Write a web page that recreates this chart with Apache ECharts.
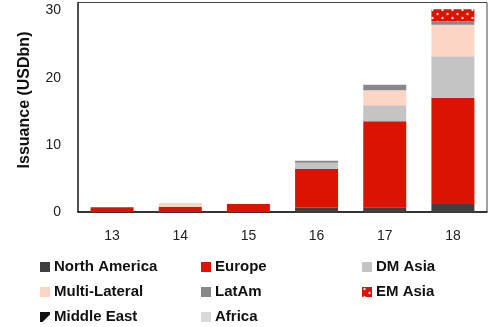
<!DOCTYPE html>
<html>
<head>
<meta charset="utf-8">
<script src="https://cdn.jsdelivr.net/npm/echarts@6/dist/echarts.min.js"></script>
<style>
  html, body { margin: 0; padding: 0; background: #fff; }
  #chart { width: 492px; height: 327px; }
</style>
</head>
<body>
<div id="chart"></div>
<script>
// Issuance by region, USD bn
const categories = ['13', '14', '15', '16', '17', '18'];
const northAmerica = [0, 0, 0, 0.65, 0.7, 1.2];
const europe = [0.7, 0.8, 1.2, 5.8, 12.8, 15.8];
const dmAsia = [0, 0, 0, 0.9, 2.4, 6.2];
const multiLateral = [0, 0.55, 0, 0, 2.25, 4.7];
const latAm = [0, 0, 0, 0.3, 0.8, 0.5];
const emAsia = [0, 0, 0, 0, 0, 1.8];
const middleEast = [0, 0, 0, 0, 0, 0];
const africa = [0, 0, 0, 0, 0, 0];
const yTicks = [0, 10, 20, 30];

// red fill with staggered white dots
function dotPattern() {
  const c = document.createElement('canvas');
  c.width = 10; c.height = 8;
  const g = c.getContext('2d');
  g.fillStyle = '#DA1400';
  g.fillRect(0, 0, 10, 8);
  g.fillStyle = 'rgba(255,255,255,0.85)';
  g.beginPath(); g.arc(2.5, 2, 1.2, 0, Math.PI * 2); g.fill();
  g.beginPath(); g.arc(7.5, 6, 1.2, 0, Math.PI * 2); g.fill();
  return { image: c, repeat: 'repeat' };
}

const font = '"Liberation Sans", Arial, sans-serif';

function bar(name, data, color) {
  return {
    name, type: 'bar', stack: 'total', data,
    barWidth: 43,
    itemStyle: { color },
    emphasis: { disabled: true }
  };
}

const series = [
  bar('North America', northAmerica, '#404040'),
  bar('Europe', europe, '#DA1400'),
  bar('DM Asia', dmAsia, '#C4C4C4'),
  bar('Multi-Lateral', multiLateral, '#FDD5C4'),
  bar('LatAm', latAm, '#888888'),
  bar('EM Asia', emAsia, dotPattern()),
  bar('Middle East', middleEast, '#111111'),
  bar('Africa', africa, '#D9D9D9')
];

function legendCol(left, items) {
  return {
    orient: 'vertical', left, top: 259.5, padding: 0,
    itemWidth: 10, itemHeight: 10, itemGap: 10,
    icon: 'rect', selectedMode: false,
    textStyle: { fontFamily: font, fontWeight: 'bold', fontSize: 15, lineHeight: 15, color: '#111', padding: [0, 0, 0, -1] },
    data: items
  };
}

const chart = echarts.init(document.getElementById('chart'), null, { renderer: 'canvas' });
chart.setOption({
  animation: false,
  backgroundColor: '#fff',
  grid: { left: 78, right: 5, top: 2.5, bottom: 115, show: true, borderColor: '#444', borderWidth: 1 },
  xAxis: {
    type: 'category', data: categories,
    axisLine: { lineStyle: { color: '#111', width: 1.5 } },
    axisTick: { show: false },
    axisLabel: { fontFamily: font, fontSize: 14, color: '#222', margin: 17 }
  },
  yAxis: {
    type: 'value', min: 0, max: 31.2, interval: 10,
    axisLine: { show: true, lineStyle: { color: '#333', width: 1.5 } },
    axisTick: { show: false },
    splitLine: { show: false },
    axisLabel: {
      fontFamily: font, fontSize: 14, color: '#222', margin: 17,
      formatter: v => (yTicks.includes(v) ? String(v) : '')
    }
  },
  graphic: [{
    type: 'text', x: 25, y: 100, rotation: Math.PI / 2,
    style: {
      text: 'Issuance (USDbn)', fill: '#111',
      font: 'bold 16px ' + font,
      textAlign: 'center', textVerticalAlign: 'middle'
    }
  }],
  legend: [
    legendCol(40, ['North America', 'Multi-Lateral',
      { name: 'Middle East', icon: 'path://M0,0H10V2.5L2.5,10H0Z' }]),
    legendCol(201, ['Europe', 'LatAm', 'Africa']),
    legendCol(362, ['DM Asia', 'EM Asia'])
  ],
  series
});
</script>
</body>
</html>
